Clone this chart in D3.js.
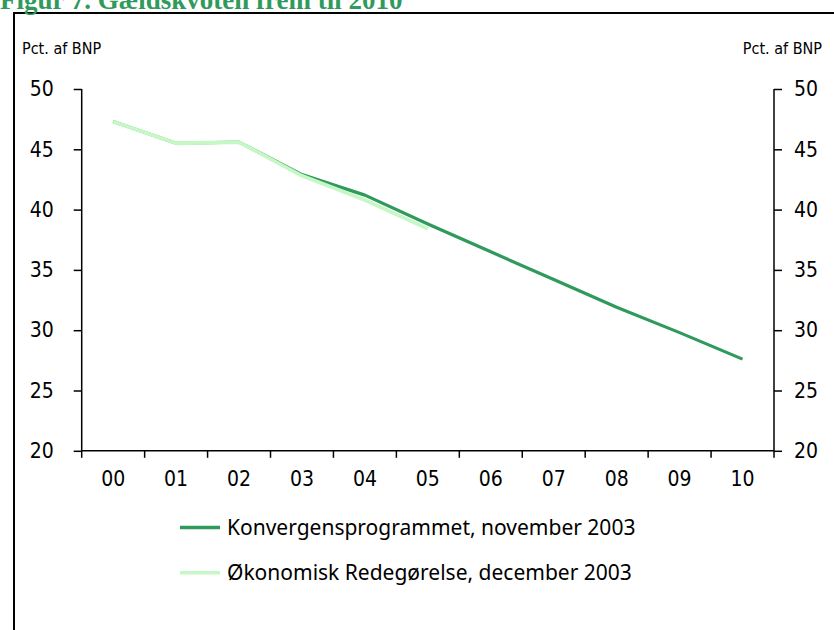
<!DOCTYPE html>
<html>
<head>
<meta charset="utf-8">
<script src="https://cdn.jsdelivr.net/npm/d3@7"></script>
<style>
  html, body { margin: 0; padding: 0; background: #fff; }
  svg { display: block; }
</style>
</head>
<body>
<svg id="chart" width="834" height="630"></svg>
<script>
const title = "Figur 7. Gældskvoten frem til 2010";
const yAxisLabel = "Pct. af BNP";
const years = ["00", "01", "02", "03", "04", "05", "06", "07", "08", "09", "10"];
const yTicks = [20, 25, 30, 35, 40, 45, 50];
const konvergens = [47.3, 45.5, 45.6, 42.9, 41.2, 38.8, 36.5, 34.2, 31.9, 29.8, 27.6];
const redegoerelse = [47.3, 45.5, 45.6, 42.8, 40.8, 38.4];
const seriesNames = ["Konvergensprogrammet, november 2003", "Økonomisk Redegørelse, december 2003"];
const seriesColors = ["#2f9a5c", "#c6f7c6"];

const svg = d3.select("#chart");
const W = 834, H = 630;
const plot = { left: 81.7, right: 774, top: 89, bottom: 450.8 };

// frame
svg.append("rect").attr("x", 14).attr("y", 13).attr("width", W).attr("height", H)
  .attr("fill", "none").attr("stroke", "#000").attr("stroke-width", 2);

// title (cut at top, as in the reference)
svg.append("text").attr("x", 0).attr("y", 9)
  .attr("font-family", "Liberation Serif").attr("font-weight", "bold")
  .attr("font-size", 27).attr("fill", "#2f9a5c").text(title);

const x = d3.scaleBand().domain(years).range([plot.left, plot.right]).padding(0);
const y = d3.scaleLinear().domain([20, 50]).range([plot.bottom, plot.top]);

const tickFont = "'DejaVu Sans Condensed', 'DejaVu Sans'";

// left axis
const gL = svg.append("g").attr("transform", `translate(${plot.left},0)`)
  .call(d3.axisLeft(y).tickValues(yTicks).tickSize(8).tickPadding(20).tickFormat(d3.format("d")));
// right axis
const gR = svg.append("g").attr("transform", `translate(${plot.right},0)`)
  .call(d3.axisRight(y).tickValues(yTicks).tickSize(8).tickPadding(12).tickFormat(d3.format("d")));
// bottom axis with ticks at category boundaries
const xEdges = years.map(d => x(d)).concat([plot.right]);
const gB = svg.append("g").attr("transform", `translate(0,${plot.bottom})`);
gB.append("line").attr("x1", plot.left).attr("x2", plot.right).attr("y1", 0).attr("y2", 0)
  .attr("stroke", "#000").attr("stroke-width", 1.5);
gB.selectAll("line.tk").data(xEdges).join("line").attr("class", "tk")
  .attr("x1", d => d).attr("x2", d => d).attr("y1", 0).attr("y2", 7)
  .attr("stroke", "#000").attr("stroke-width", 1.5);
gB.selectAll("text").data(years).join("text")
  .attr("x", d => x(d) + x.bandwidth() / 2).attr("y", 35)
  .attr("text-anchor", "middle").attr("font-family", tickFont).attr("font-stretch", "condensed")
  .attr("font-size", 21).attr("fill", "#000").text(d => d);

[gL, gR].forEach(g => {
  g.select(".domain").attr("stroke", "#000").attr("stroke-width", 1.5);
  g.selectAll(".tick line").attr("stroke", "#000").attr("stroke-width", 1.5);
  g.selectAll(".tick text").attr("font-family", tickFont).attr("font-stretch", "condensed")
    .attr("font-size", 21).attr("fill", "#000");
});
gL.select(".domain").attr("d", `M0,${plot.top}V${plot.bottom}`);
gR.select(".domain").attr("d", `M0,${plot.top}V${plot.bottom}`);

// unit labels
svg.append("text").attr("x", 22).attr("y", 53.5).attr("font-family", tickFont).attr("font-stretch", "condensed")
  .attr("font-size", 16).attr("fill", "#000").text(yAxisLabel);
svg.append("text").attr("x", 822).attr("y", 53.5).attr("text-anchor", "end")
  .attr("font-family", tickFont).attr("font-stretch", "condensed")
  .attr("font-size", 16).attr("fill", "#000").text(yAxisLabel);

// lines
const line = d3.line().x((d, i) => x(years[i]) + x.bandwidth() / 2).y(d => y(d));
svg.append("path").datum(konvergens).attr("d", line).attr("fill", "none")
  .attr("stroke", seriesColors[0]).attr("stroke-width", 3.2).attr("stroke-linejoin", "round");
svg.append("path").datum(redegoerelse).attr("d", line).attr("fill", "none")
  .attr("stroke", seriesColors[1]).attr("stroke-width", 3.8).attr("stroke-linejoin", "round");

// legend
const legend = svg.append("g");
seriesNames.forEach((name, i) => {
  const ly = 527.5 + i * 45.3;
  legend.append("line").attr("x1", 180).attr("x2", 220).attr("y1", ly).attr("y2", ly)
    .attr("stroke", seriesColors[i]).attr("stroke-width", 3.5);
  legend.append("text").attr("x", 227).attr("y", ly + 7.5)
    .attr("font-family", "Noto Sans").attr("font-size", 21).attr("fill", "#000").text(name);
});
</script>
</body>
</html>
